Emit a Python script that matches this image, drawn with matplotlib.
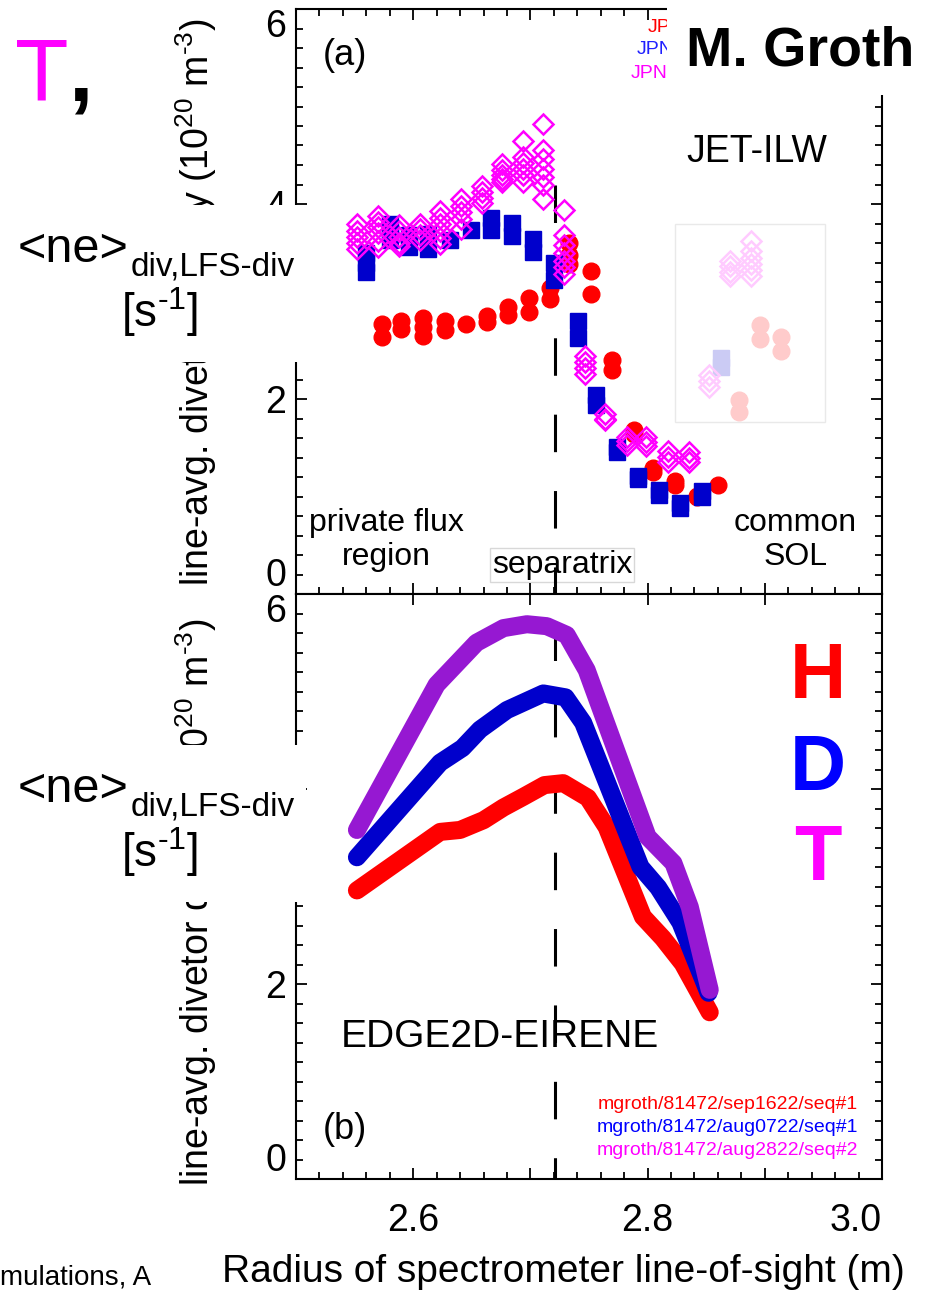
import matplotlib
matplotlib.use('Agg')
import matplotlib.pyplot as plt
from matplotlib.patches import Rectangle
from matplotlib.ticker import MultipleLocator, FixedLocator

plt.rcParams['font.family'] = ['Liberation Sans', 'DejaVu Sans']
plt.rcParams['mathtext.fontset'] = 'custom'
plt.rcParams['mathtext.rm'] = 'Liberation Sans'
plt.rcParams['mathtext.it'] = 'Liberation Sans:italic'
plt.rcParams['lines.scale_dashes'] = False

# ---- panel (a): measured line-avg. divertor density ----
h_x = [2.573, 2.590, 2.608, 2.627, 2.645, 2.663, 2.681, 2.699, 2.717, 2.733,
       2.752, 2.770, 2.788, 2.805, 2.823, 2.842, 2.860]
h_y = [[2.77, 2.64], [2.80, 2.72], [2.83, 2.74, 2.65], [2.80, 2.71], [2.77],
       [2.85, 2.79], [2.94, 2.86], [3.04, 2.89], [3.14, 3.03], [3.60, 3.48, 3.38],
       [3.31, 3.08], [2.40, 2.30], [1.68, 1.64], [1.29, 1.25], [1.16, 1.12],
       [1.01, 0.99], [1.12]]

d_x = [2.560, 2.580, 2.596, 2.613, 2.631, 2.649, 2.666, 2.684, 2.702, 2.720,
       2.741, 2.756, 2.774, 2.792, 2.810, 2.828, 2.846]
d_y = [[3.50, 3.40, 3.30], [3.80, 3.71, 3.63], [3.68, 3.56], [3.69, 3.54], [3.63],
       [3.73], [3.86, 3.73], [3.81, 3.67], [3.64, 3.51], [3.39, 3.22],
       [2.80, 2.63], [2.04, 1.94], [1.51, 1.46], [1.21, 1.18], [1.07, 1.02],
       [0.93, 0.88], [1.06, 1.00]]

t_x = [2.552, 2.570, 2.588, 2.606, 2.623, 2.641, 2.659, 2.676, 2.694, 2.711,
       2.729, 2.747, 2.764, 2.782, 2.799, 2.817, 2.835]
t_y = [[3.80, 3.72, 3.66, 3.60, 3.54], [3.88, 3.82, 3.76, 3.70, 3.62, 3.56],
       [3.78, 3.72, 3.66, 3.60, 3.57], [3.80, 3.74, 3.68, 3.63],
       [3.93, 3.86, 3.80, 3.72, 3.65, 3.59], [4.05, 3.98, 3.92, 3.85, 3.74],
       [4.18, 4.12, 4.06, 4.01], [4.41, 4.35, 4.30, 4.26, 4.23],
       [4.65, 4.48, 4.42, 4.36, 4.30, 4.23], [4.82, 4.55, 4.46, 4.36, 4.28, 4.20, 4.05],
       [3.94, 3.68, 3.58, 3.50, 3.42, 3.35, 3.28], [2.44, 2.38, 2.32, 2.26],
       [1.85, 1.80, 1.78], [1.61, 1.57, 1.53], [1.61, 1.56, 1.52],
       [1.47, 1.41, 1.35], [1.46, 1.40, 1.35]]

# points behind the faded inset
hf_x = [2.878, 2.896, 2.914]
hf_y = [[1.99, 1.87], [2.76, 2.62], [2.64, 2.49]]
df_x = [2.863]
df_y = [[2.42, 2.33]]
tf_x = [2.852, 2.870, 2.888]
tf_y = [[2.25, 2.18, 2.12], [3.42, 3.36, 3.30, 3.26], [3.62, 3.52, 3.45, 3.38, 3.32, 3.26]]

# ---- panel (b): EDGE2D-EIRENE ----
sim_h_x = [2.552, 2.623, 2.640, 2.660, 2.677, 2.694, 2.712, 2.728, 2.749, 2.765,
           2.796, 2.813, 2.830, 2.853]
sim_h_y = [2.96, 3.56, 3.58, 3.68, 3.81, 3.92, 4.04, 4.06, 3.91, 3.61,
           2.69, 2.47, 2.21, 1.71]
sim_d_x = [2.552, 2.623, 2.642, 2.657, 2.680, 2.711, 2.730, 2.745, 2.794, 2.809,
           2.828, 2.852]
sim_d_y = [3.30, 4.27, 4.42, 4.61, 4.81, 4.98, 4.94, 4.68, 3.20, 2.99, 2.63, 1.91]
sim_t_x = [2.552, 2.620, 2.654, 2.677, 2.697, 2.714, 2.731, 2.748, 2.800, 2.822,
           2.836, 2.853]
sim_t_y = [3.58, 5.07, 5.50, 5.65, 5.69, 5.67, 5.58, 5.22, 3.51, 3.24, 2.79, 1.94]

r_sep = 2.721
runs = ['mgroth/81472/sep1622/seq#1', 'mgroth/81472/aug0722/seq#1',
        'mgroth/81472/aug2822/seq#2']
run_colors = ['#ff0000', '#0000ff', '#ff00ff']

RED, BLUE, MAG, PURPLE = '#ff0000', '#0000cc', '#ff00ff', '#9618d2'
W, H = 930, 1292


def fx(px):
    return px / W


def fy(py):
    return 1 - py / H


def expand(xs, ys):
    ox, oy = [], []
    for x, col in zip(xs, ys):
        for y in col:
            ox.append(x)
            oy.append(y)
    return ox, oy


def style_axes(ax):
    ax.set_xlim(2.5, 3.0)
    ax.set_ylim(0, 6)
    ax.xaxis.set_major_locator(FixedLocator([2.5, 2.6, 2.7, 2.8, 2.9, 3.0]))
    ax.xaxis.set_minor_locator(MultipleLocator(0.02))
    ax.yaxis.set_major_locator(FixedLocator([0, 2, 4, 6]))
    ax.yaxis.set_minor_locator(MultipleLocator(0.2))
    ax.tick_params(which='both', direction='in', top=True, right=True,
                   width=1.3, labelsize=27)
    ax.tick_params(which='major', length=8)
    ax.tick_params(which='minor', length=5)
    ax.tick_params(axis='y', pad=7)
    ax.tick_params(axis='x', pad=17)
    for s in ax.spines.values():
        s.set_linewidth(1.5)
    ax.set_yticks([0, 2, 4, 6])
    ax.set_yticklabels(['0', '2', '4', '6'])
    yl = ax.get_yticklabels()
    yl[0].set_va('bottom')
    yl[-1].set_va('top')


fig = plt.figure(figsize=(9.3, 12.92), dpi=100)
ax_a = fig.add_axes([fx(296), fy(594), fx(882) - fx(296), fy(9) - fy(594)])
ax_b = fig.add_axes([fx(296), fy(1179), fx(882) - fx(296), fy(594) - fy(1179)])

for ax in (ax_a, ax_b):
    style_axes(ax)
ax_a.set_xticklabels([])
ax_b.set_xticklabels(['', '2.6', '', '2.8', '', '3.0'])
ax_b.get_xticklabels()[-1].set_ha('right')
ax_b.tick_params(which='minor', top=False)

# panel (a) data
x, y = expand(h_x, h_y)
ax_a.plot(x, y, 'o', color=RED, ms=12, mec=RED, zorder=2)
x, y = expand(d_x, d_y)
ax_a.plot(x, y, 's', color=BLUE, ms=11.5, mec=BLUE, zorder=3)
x, y = expand(t_x, t_y)
ax_a.plot(x, y, 'D', mfc='none', mec=MAG, mew=1.8, ms=10, zorder=4)
x, y = expand(hf_x, hf_y)
ax_a.plot(x, y, 'o', color=RED, ms=12, zorder=2)
x, y = expand(df_x, df_y)
ax_a.plot(x, y, 's', color=BLUE, ms=11.5, zorder=3)
x, y = expand(tf_x, tf_y)
ax_a.plot(x, y, 'D', mfc='none', mec=MAG, mew=1.8, ms=10, zorder=4)
ax_a.add_patch(Rectangle((2.8234, 1.764), 0.128, 2.031, facecolor='white',
                         alpha=0.8, edgecolor='#e4e4e4', lw=1, zorder=5))
ax_a.plot([r_sep, r_sep], [4.2, 0], color='black', lw=2.2,
          dashes=(27, 28), zorder=1.5)

ax_a.text(0.084, 0.92, '(a)', transform=ax_a.transAxes, fontsize=26,
          ha='center', va='center')
ax_a.text(0.787, 0.755, 'JET-ILW', transform=ax_a.transAxes, fontsize=27,
          ha='center', va='center')
ax_a.text(0.155, 0.092, 'private flux\nregion', transform=ax_a.transAxes,
          fontsize=23, ha='center', va='center', linespacing=1.2)
ax_a.text(0.852, 0.092, 'common\nSOL', transform=ax_a.transAxes,
          fontsize=23, ha='center', va='center', linespacing=1.2)
ax_a.text(0.454, 0.05, 'separatrix', transform=ax_a.transAxes, fontsize=23,
          ha='center', va='center', zorder=1,
          bbox=dict(boxstyle='square,pad=0.06', fc='white', ec='#d8d8d8', lw=1))

# panel (b) simulations
for sx, sy, c, z in [(sim_h_x, sim_h_y, RED, 2), (sim_d_x, sim_d_y, BLUE, 3),
                     (sim_t_x, sim_t_y, PURPLE, 4)]:
    ax_b.plot(sx, sy, color=c, lw=13, solid_capstyle='round',
              solid_joinstyle='round', zorder=z)
ax_b.plot([r_sep, r_sep], [5.70, 0], color='black', lw=2.2,
          dashes=(27, 28), zorder=1.5)
ax_b.text(0.084, 0.085, '(b)', transform=ax_b.transAxes, fontsize=26,
          ha='center', va='center')
ax_b.text(0.348, 0.243, 'EDGE2D-EIRENE', transform=ax_b.transAxes,
          fontsize=28, ha='center', va='center')
for i, (txt, c) in enumerate(zip(runs, run_colors)):
    ax_b.text(0.959, 0.127 - i * 0.0393, txt, transform=ax_b.transAxes,
              fontsize=14, color=c, ha='right', va='center')
for txt, c, py in zip(['H', 'D', 'T'], [RED, '#0000ff', MAG], [677, 770, 860]):
    fig.text(fx(818), fy(py), txt, color=c, fontsize=56, fontweight='bold',
             ha='center', va='center')

# axis labels
ylab = r'line-avg. divetor density (10$^{20}$ m$^{\text{-}3}$)'
fig.text(fx(196), fy(302), ylab, rotation=90, fontsize=27, ha='center', va='center')
fig.text(fx(196), fy(902), ylab, rotation=90, fontsize=27, ha='center', va='center')
fig.text(fx(563), fy(1272), 'Radius of spectrometer line-of-sight (m)',
         fontsize=28, ha='center', va='center')

# small legend entries at the top, partly hidden
for txt, c, px, py in zip(['JPN', 'JPN', 'JPN'], ['#ff0000', '#2020ff', '#ff00ff'],
                          [648, 637, 631], [28, 50, 74]):
    fig.text(fx(px), fy(py), txt, color=c, fontsize=14, ha='left', va='center')

# slide overlays
for (x0, y0, x1, y1) in [(0, 205, 306, 362), (0, 745, 306, 902), (667, 0, 930, 95)]:
    fig.add_artist(Rectangle((fx(x0), fy(y1)), fx(x1) - fx(x0), fy(y0) - fy(y1),
                             transform=fig.transFigure, facecolor='white',
                             edgecolor='none', zorder=10))

fig.text(fx(800), fy(52), 'M. Groth', fontsize=40, fontweight='bold',
         ha='center', va='center', zorder=11)
fig.text(fx(15), fy(100), 'T', color=MAG, fontsize=63, ha='left',
         va='baseline', zorder=11)
fig.text(fx(68), fy(100), ',', color='black', fontsize=63, fontweight='bold',
         ha='left', va='baseline', zorder=11)
for dy in (0, 540):
    fig.text(fx(18), fy(249 + dy), '<ne>', fontsize=35, ha='left',
             va='center', zorder=11)
    fig.text(fx(131), fy(267 + dy), 'div,LFS-div', fontsize=24, ha='left',
             va='center', zorder=11)
    fig.text(fx(160), fy(312 + dy), r'[s$^{\text{-}1}$]', fontsize=33, ha='center',
             va='center', zorder=11)
fig.text(0, fy(1278), 'mulations, A', fontsize=20, ha='left', va='center')

fig.savefig('out.png', dpi=100)
